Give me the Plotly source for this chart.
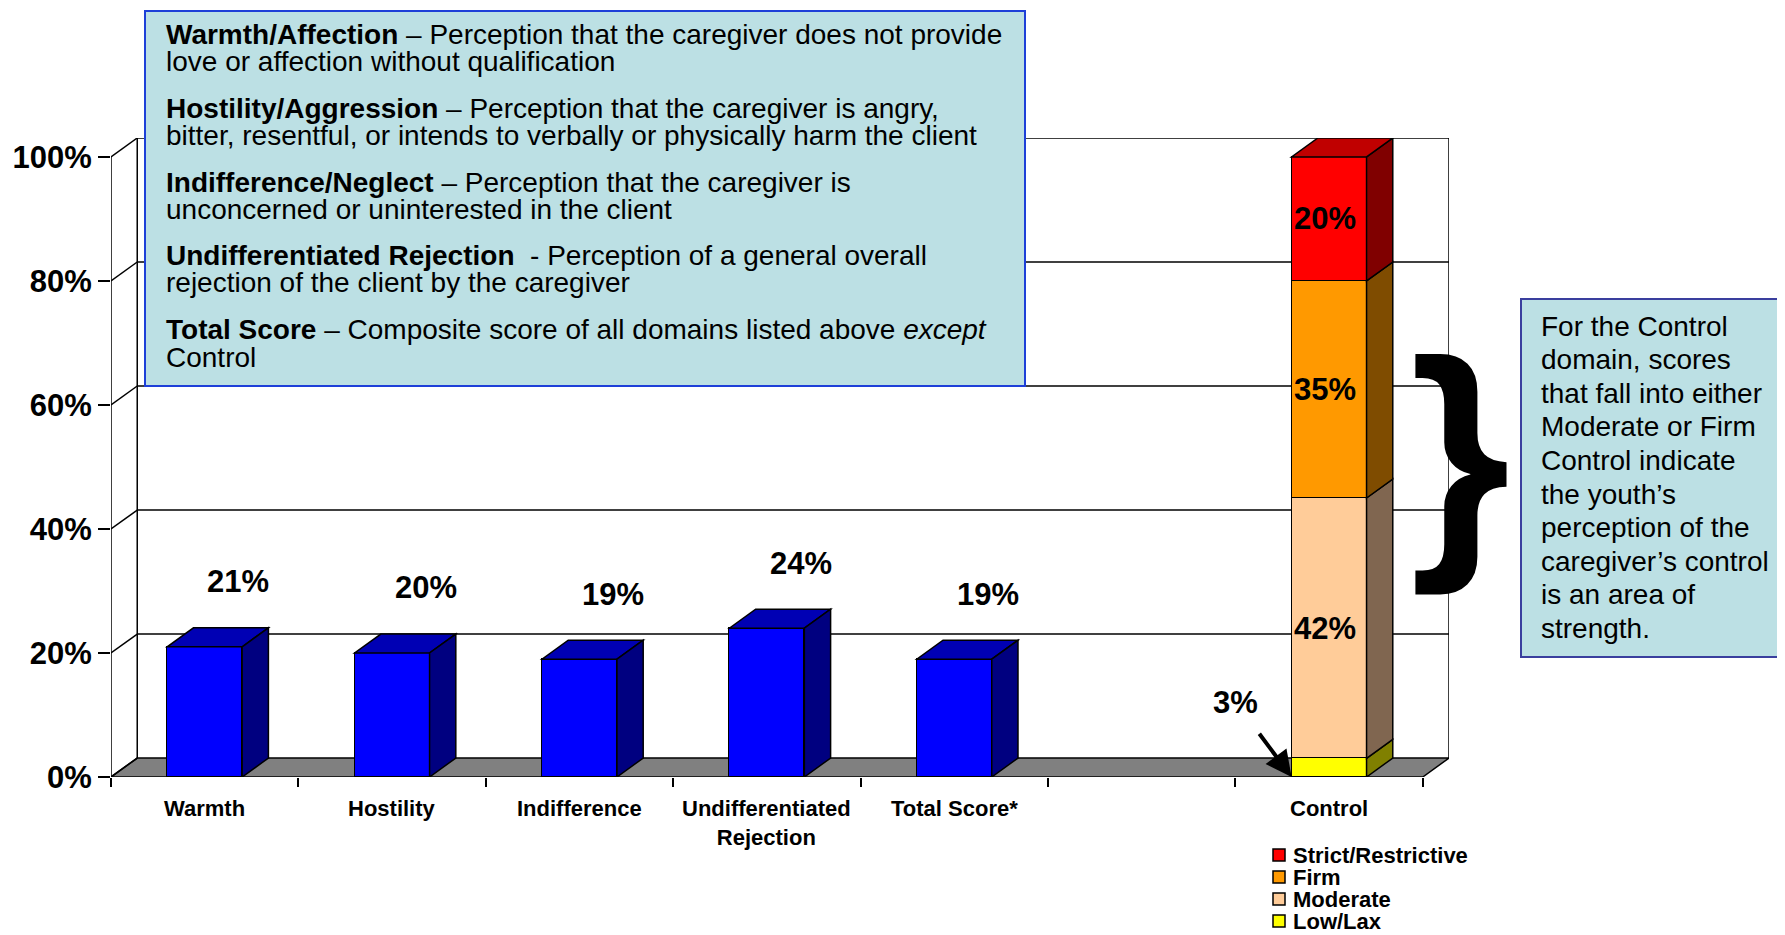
import plotly.graph_objects as go

# ---------------- data ----------------
categories = ["Warmth", "Hostility", "Indifference", "Undifferentiated<br>Rejection",
              "Total Score*", "", "Control"]
domain_values = [21, 20, 19, 24, 19]
domain_labels = ["21%", "20%", "19%", "24%", "19%"]
control_series = ["Low/Lax", "Moderate", "Firm", "Strict/Restrictive"]
control_values = [3, 42, 35, 20]
control_labels = ["3%", "42%", "35%", "20%"]
y_ticks = [0, 20, 40, 60, 80, 100]
y_tick_labels = ["0%", "20%", "40%", "60%", "80%", "100%"]

box_lines = [
    "<b>Warmth/Affection</b> – Perception that the caregiver does not provide",
    "love or affection without qualification",
    "<b>Hostility/Aggression</b> – Perception that the caregiver is angry,",
    "bitter, resentful, or intends to verbally or physically harm the client",
    "<b>Indifference/Neglect</b> – Perception that the caregiver is",
    "unconcerned or uninterested in the client",
    "<b>Undifferentiated Rejection</b>  - Perception of a general overall",
    "rejection of the client by the caregiver",
    "<b>Total Score</b> – Composite score of all domains listed above <i>except</i>",
    "Control",
]
note_lines = ["For the Control", "domain, scores", "that fall into either",
              "Moderate or Firm", "Control indicate", "the youth’s",
              "perception of the", "caregiver’s control", "is an area of", "strength."]

# ---------------- styling / geometry ----------------
PAGE = 8                      # html body margin
W, H = 1785 - PAGE, 935 - PAGE
ML, MR, MT, MB = 103, 336, 130, 158
PW, PH = W - ML - MR, H - MT - MB
DX, DY = 0.14, 3.06          # depth offset of the 3-D look (data units)
BW = 0.4                      # bar width
FONT = "Liberation Sans, Arial, sans-serif"

domain_front = "#0000FF"; domain_top = "#0000B4"; domain_side = "#000080"
ctrl_front = ["#FFFF00", "#FFCC99", "#FF9900", "#FF0000"]
ctrl_side = ["#808000", "#806650", "#7F4C00", "#800000"]
ctrl_top = "#C00000"
box_fill = "#BCE0E4"


def px_x(sx):
    return (sx - PAGE - ML) / PW


def px_y(sy):
    return (H - MB + PAGE - sy) / PH


xpos = list(range(len(categories)))
xmin, xmax = -0.5, len(categories) - 0.5

fig = go.Figure()

fig.add_trace(go.Bar(x=xpos[:len(domain_values)], y=domain_values, width=BW,
                     marker=dict(color=domain_front, line=dict(color="black", width=1.5)),
                     showlegend=False, hoverinfo="skip"))
for name, val, col in zip(control_series, control_values, ctrl_front):
    fig.add_trace(go.Bar(x=[xpos[-1]], y=[val], width=BW, name=name,
                         marker=dict(color=col, line=dict(color="black", width=1.5)),
                         showlegend=False, hoverinfo="skip"))

shapes = []
line_style = dict(color="black", width=1.5)


def poly(pts, fill, layer="above"):
    path = "M " + " L ".join(f"{x},{y}" for x, y in pts) + " Z"
    return dict(type="path", path=path, xref="x", yref="y", fillcolor=fill,
                line=dict(color="black", width=1.5), layer=layer)


# floor
shapes.append(poly([(xmin, 0), (xmax, 0), (xmax + DX, DY), (xmin + DX, DY)], "#808080", "below"))
# back wall gridlines and side wall diagonals
for v in y_ticks:
    if v > 0:
        shapes.append(dict(type="line", xref="x", yref="y", x0=xmin + DX, x1=xmax + DX,
                           y0=v + DY, y1=v + DY, line=line_style, layer="below"))
    shapes.append(dict(type="line", xref="x", yref="y", x0=xmin, x1=xmin + DX,
                       y0=v, y1=v + DY, line=line_style, layer="below"))
# wall edges
shapes.append(dict(type="line", xref="x", yref="y", x0=xmin + DX, x1=xmin + DX,
                   y0=DY, y1=y_ticks[-1] + DY, line=line_style, layer="below"))
shapes.append(dict(type="line", xref="x", yref="y", x0=xmax + DX, x1=xmax + DX,
                   y0=DY, y1=y_ticks[-1] + DY, line=line_style, layer="below"))
shapes.append(dict(type="line", xref="x", yref="y", x0=xmin, x1=xmin,
                   y0=0, y1=y_ticks[-1], line=line_style, layer="below"))

# 3-D faces of the domain bars
for xc, v in zip(xpos, domain_values):
    l, r = xc - BW / 2, xc + BW / 2
    shapes.append(poly([(l, v), (r, v), (r + DX, v + DY), (l + DX, v + DY)], domain_top))
    shapes.append(poly([(r, 0), (r + DX, DY), (r + DX, v + DY), (r, v)], domain_side))

# 3-D faces of the stacked control bar
xc = xpos[-1]
l, r = xc - BW / 2, xc + BW / 2
base = 0
for v, sc in zip(control_values, ctrl_side):
    shapes.append(poly([(r, base), (r + DX, base + DY), (r + DX, base + v + DY), (r, base + v)], sc))
    base += v
shapes.append(poly([(l, base), (r, base), (r + DX, base + DY), (l + DX, base + DY)], ctrl_top))

# text boxes
shapes.append(dict(type="rect", xref="paper", yref="paper", x0=px_x(145), x1=px_x(1025),
                   y0=px_y(386), y1=px_y(11), fillcolor=box_fill,
                   line=dict(color="#1E40D8", width=2), layer="above"))
shapes.append(dict(type="rect", xref="paper", yref="paper", x0=px_x(1521), x1=px_x(1800),
                   y0=px_y(657), y1=px_y(299), fillcolor=box_fill,
                   line=dict(color="#3A3F9E", width=2), layer="above"))

annotations = []
# category labels
for xc, c in zip(xpos, categories):
    if c:
        annotations.append(dict(x=xc, y=0, xref="x", yref="y", text=f"<b>{c}</b>",
                                showarrow=False, xanchor="center", yanchor="top", yshift=-17,
                                font=dict(family=FONT, size=22, color="black")))
# domain value labels
for xc, v, t in zip(xpos, domain_values, domain_labels):
    annotations.append(dict(x=xc + 0.18, y=v + 10.5, xref="x", yref="y", text=f"<b>{t}</b>",
                            showarrow=False, font=dict(family=FONT, size=31, color="black")))
# control labels
base = 0
for i, (v, t) in enumerate(zip(control_values, control_labels)):
    if i == 0:
        annotations.append(dict(x=xpos[-1] - BW / 2, y=base, xref="x", yref="y",
                                text=f"<b>{t}</b>", showarrow=True, arrowhead=2,
                                arrowsize=1.3, arrowwidth=4, arrowcolor="black",
                                ax=-56, ay=-75, startstandoff=16,
                                font=dict(family=FONT, size=31, color="black")))
    else:
        annotations.append(dict(x=xpos[-1] - 0.02, y=base + v / 2, xref="x", yref="y",
                                text=f"<b>{t}</b>", showarrow=False,
                                font=dict(family=FONT, size=31, color="black")))
    base += v

# main text box lines
box_y = [34, 61.5, 108, 135.5, 182, 209.5, 255, 282.5, 329, 357]
for t, yy in zip(box_lines, box_y):
    annotations.append(dict(x=px_x(164), y=px_y(yy), xref="paper", yref="paper", text=t,
                            showarrow=False, xanchor="left", yanchor="middle",
                            font=dict(family=FONT, size=28, color="black")))
# note box lines
for i, t in enumerate(note_lines):
    annotations.append(dict(x=px_x(1539), y=px_y(326 + 33.6 * i), xref="paper", yref="paper",
                            text=t, showarrow=False, xanchor="left", yanchor="middle",
                            font=dict(family=FONT, size=28, color="black")))
# brace
annotations.append(dict(x=px_x(1460), y=px_y(452), xref="paper", yref="paper", text="<b>}</b>",
                        showarrow=False, xanchor="center", yanchor="middle",
                        font=dict(family=FONT, size=258, color="black")))
# legend (drawn manually, top entry = top of stack)
leg_y = [855, 877, 899, 921]
for name, col, yy in zip(control_series[::-1], ctrl_front[::-1], leg_y):
    shapes.append(dict(type="rect", xref="paper", yref="paper", x0=px_x(1273), x1=px_x(1285),
                       y0=px_y(yy + 6), y1=px_y(yy - 6), fillcolor=col,
                       line=dict(color="black", width=1.5), layer="above"))
    annotations.append(dict(x=px_x(1291), y=px_y(yy), xref="paper", yref="paper",
                            text=f"<b>{name}</b>", showarrow=False, xanchor="left",
                            yanchor="middle",
                            font=dict(family=FONT, size=22, color="black")))

fig.update_layout(
    width=W, height=H,
    margin=dict(l=ML, r=MR, t=MT, b=MB),
    paper_bgcolor="white", plot_bgcolor="white",
    barmode="stack", bargap=0,
    shapes=shapes, annotations=annotations,
    showlegend=False,
    xaxis=dict(range=[xmin, xmax + DX], tickvals=[x - 0.5 for x in xpos] + [xmax],
               ticktext=[""] * (len(xpos) + 1), ticks="outside", ticklen=9, tickwidth=1.5,
               tickcolor="black", showgrid=False, zeroline=False, showline=False,
               automargin=False),
    yaxis=dict(range=[0, y_ticks[-1] + DY], tickvals=y_ticks, ticktext=y_tick_labels,
               ticks="outside", ticklen=12, tickwidth=1.5, tickcolor="black",
               tickfont=dict(family=FONT, size=31, color="black", weight="bold"),
               showgrid=False, zeroline=False, showline=False, automargin=False),
)

fig.write_html("out.html")
